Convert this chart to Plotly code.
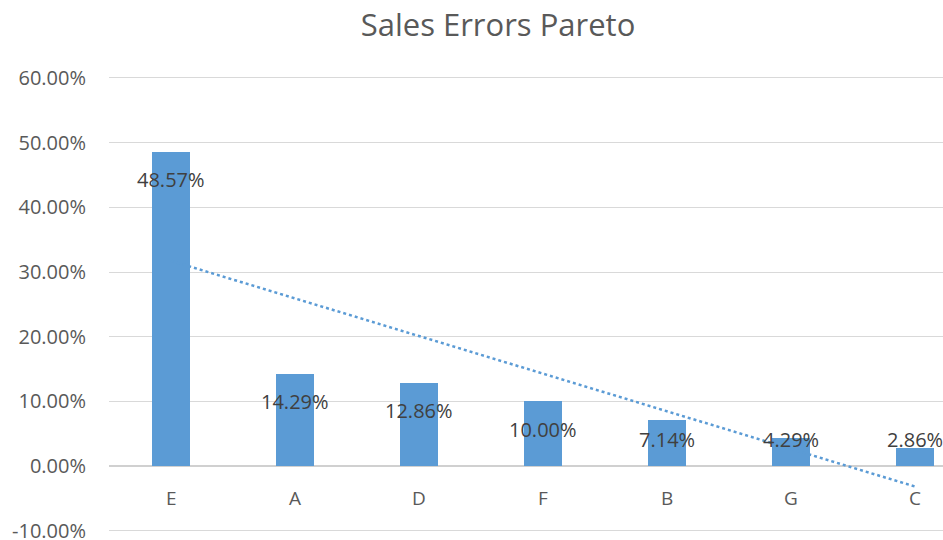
import numpy as np
import plotly.graph_objects as go

categories = ["E", "A", "D", "F", "B", "G", "C"]
values = [48.57, 14.29, 12.86, 10.00, 7.14, 4.29, 2.86]
title_text = "Sales Errors Pareto"
y_ticks = [-10, 0, 10, 20, 30, 40, 50, 60]

BLUE = "#5b9bd5"
GRAY = "#595959"
FONT = "Open Sans, Segoe UI, sans-serif"

# linear trendline fitted on the series (as Excel does)
idx = np.arange(1, len(values) + 1)
slope, intercept = np.polyfit(idx, values, 1)
trend_y = [slope * idx[0] + intercept, slope * idx[-1] + intercept]

fig = go.Figure()
fig.add_trace(go.Scatter(
    x=[categories[0], categories[-1]], y=trend_y, mode="lines",
    line=dict(color=BLUE, width=2.5, dash="dot"), hoverinfo="skip",
    showlegend=False,
))
fig.add_trace(go.Bar(
    x=categories, y=values, width=0.31, marker=dict(color=BLUE, line=dict(width=0)),
    showlegend=False,
))

annotations = []
for c, v in zip(categories, values):
    annotations.append(dict(
        x=c, y=max(v - 4.33, 4.06), xref="x", yref="y", text=f"{v:.2f}%",
        showarrow=False, font=dict(family=FONT, size=20, color="#404040"),
        xanchor="center", yanchor="middle",
    ))
    annotations.append(dict(
        x=c, y=0, xref="x", yref="y", text=c, showarrow=False, yshift=-32,
        font=dict(family=FONT, size=19, color=GRAY), xanchor="center", yanchor="middle",
    ))

fig.update_layout(
    width=943, height=540,
    margin=dict(l=109, r=0, t=76, b=6, autoexpand=False),
    paper_bgcolor="white", plot_bgcolor="white",
    font=dict(family=FONT, color=GRAY),
    showlegend=False,
    bargap=0,
    annotations=annotations,
    title=dict(text=title_text, x=498 / 943, xanchor="center", y=1 - 25 / 540, yanchor="middle",
               font=dict(family=FONT, size=31, color=GRAY)),
    xaxis=dict(
        range=[-0.5, 6.226], categoryorder="array", categoryarray=categories,
        showticklabels=False, showgrid=False, zeroline=False,
        showline=False, fixedrange=True, automargin=False,
    ),
    yaxis=dict(
        range=[-10.5, 60.3], tickvals=y_ticks, ticktext=[f"{t:.2f}%" for t in y_ticks],
        showgrid=True, gridcolor="#d9d9d9", gridwidth=1.3,
        zeroline=True, zerolinecolor="#d0d0d0", zerolinewidth=1.5,
        showline=False, ticks="", ticklabelstandoff=22, automargin=False,
        ticklabeloverflow="allow", fixedrange=True,
        tickfont=dict(family=FONT, size=20, color=GRAY),
    ),
)

fig.write_html(
    "out.html",
    config={"displayModeBar": False},
    post_script="document.body.style.margin='0';document.body.style.overflow='hidden';",
)
